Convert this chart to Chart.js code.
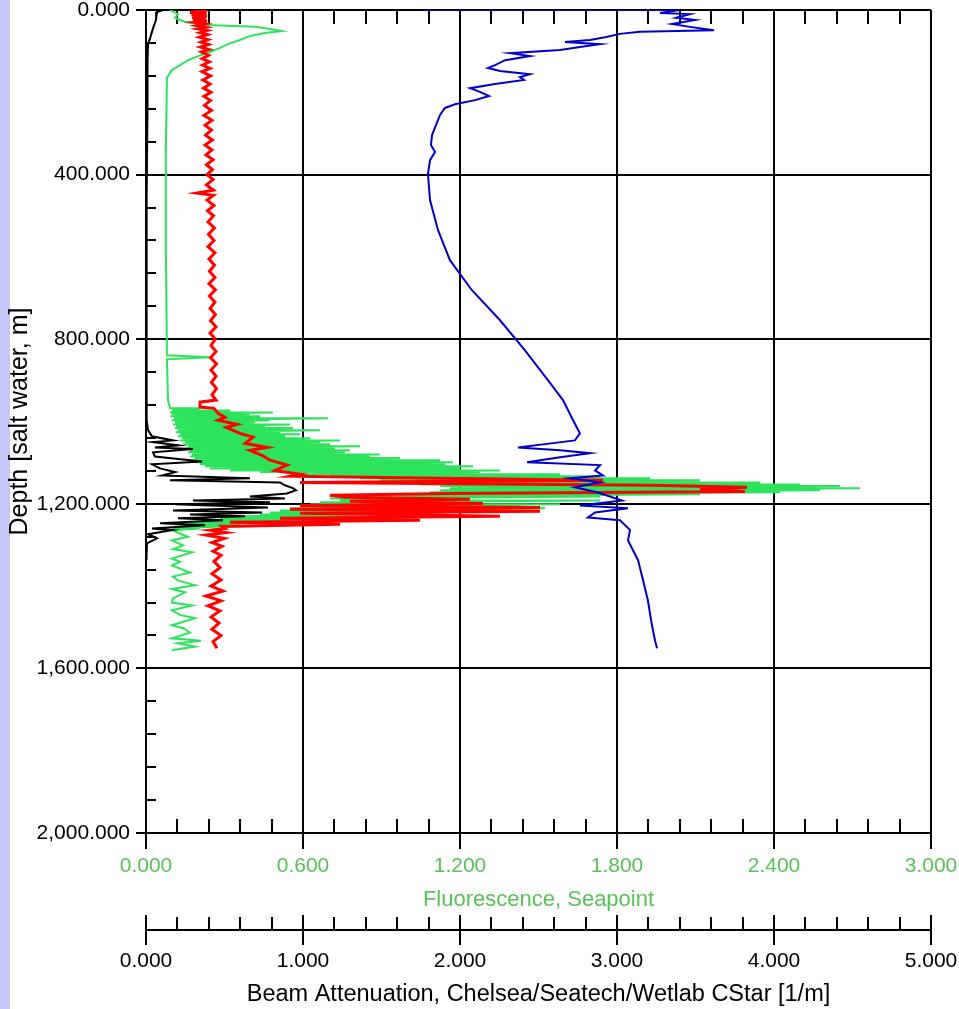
<!DOCTYPE html>
<html><head><meta charset="utf-8">
<script src="https://cdn.jsdelivr.net/npm/chart.js@4.4.0/dist/chart.umd.min.js"></script>
<style>
html,body{margin:0;padding:0;}
body{width:959px;height:1009px;overflow:hidden;background:linear-gradient(to right,#c6c6f6 0,#c6c6f6 10px,#ffffff 10px);}
canvas{display:block;}
</style></head><body>
<canvas id="c" width="959" height="1009"></canvas>
<script>
// ---- data (depth in m, values in instrument units) ----
const depthTicks = [0, 400, 800, 1200, 1600, 2000];
const fluorTicks = [0, 0.6, 1.2, 1.8, 2.4, 3.0];
const beamTicks = [0, 1, 2, 3, 4, 5];

const blueDepth = [0,0,7,10,19,24,34,41,49,53,58,66,73,78,83,90,97,105,112,122,134,141,148,156,163,170,180,190,199,209,219,229,238,255,280,304,328,345,365,399,462,535,608,681,754,827,900,948,997,1029,1046,1055,1063,1070,1077,1087,1099,1106,1119,1131,1138,1148,1160,1172,1192,1204,1211,1221,1233,1240,1264,1289,1337,1386,1435,1483,1532,1551];
const blueBeam = [1.758,3.401,3.274,3.465,3.376,3.497,3.350,3.465,3.618,3.146,3.019,2.924,2.828,2.669,2.892,2.764,2.637,2.318,2.446,2.287,2.223,2.178,2.255,2.446,2.382,2.408,2.223,2.064,2.127,2.185,2.096,1.968,1.904,1.873,1.847,1.822,1.815,1.841,1.809,1.796,1.809,1.860,1.936,2.076,2.255,2.414,2.561,2.656,2.720,2.764,2.732,2.541,2.369,2.637,2.828,2.637,2.427,2.892,2.860,2.911,2.701,2.892,2.732,2.873,3.032,2.764,3.070,2.860,2.815,3.019,3.083,3.070,3.134,3.166,3.197,3.217,3.242,3.255];

const blackDepth = [0,5,24,44,61,85,122,219,462,705,948,997,1021,1036,1046,1050,1058,1063,1067,1075,1085,1097,1104,1114,1123,1131,1138,1143,1148,1155,1162,1167,1175,1182,1187,1192,1196,1201,1209,1216,1221,1226,1230,1235,1240,1247,1252,1260,1264,1274,1284,1296,1313,1337];
const blackBeam = [0.108,0.070,0.064,0.045,0.032,0.013,0.010,0.010,0.004,0.003,0.003,0.006,0.013,0.038,0.172,0.045,0.204,0.057,0.299,0.045,0.057,0.357,0.038,0.089,0.185,0.102,0.662,0.153,0.854,0.885,0.936,0.955,0.898,0.662,0.885,0.299,0.790,0.185,0.777,0.172,0.739,0.280,0.631,0.204,0.490,0.089,0.376,0.038,0.166,0.013,0.070,0.006,0.003,0.003];

const redDepth = [0,3,6,9,12,15,18,21,24,27,30,34,38,42,46,50,55,60,66,72,78,84,90,96,102,110,118,126,134,142,150,160,170,180,190,200,210,220,232,244,256,268,280,292,304,316,328,340,352,364,376,388,400,412,425,438,445,450,462,475,488,500,515,530,545,560,575,590,605,620,635,650,665,680,695,710,725,740,755,770,785,800,815,830,845,860,875,890,905,920,935,948,
953,965,968,980,990,997,1007,1014,1029,1038,1053,1063,1070,1082,1094,1106,1119,1128,1133,1138,1143,1148,1155,1160,1165,1170,1175,1179,1184,1189,1194,1199,1204,1209,1213,1218,1223,1230,1235,1240,1245,1250,1255,1260,
1264,1270,1276,1284,1294,1303,1315,1325,1340,1355,1370,1385,1400,1412,1424,1436,1448,1460,1475,1490,1505,1520,1535,1551];
const redBeam = [0.299,0.389,0.280,0.385,0.290,0.389,0.293,0.382,0.299,0.389,0.312,0.376,0.325,0.382,0.331,0.389,0.344,0.392,0.340,0.395,0.350,0.398,0.346,0.401,0.353,0.398,0.357,0.404,0.360,0.408,0.357,0.411,0.363,0.408,0.366,0.414,0.369,0.411,0.373,0.417,0.369,0.420,0.376,0.417,0.379,0.423,0.376,0.420,0.382,0.427,0.385,0.423,0.389,0.427,0.385,0.430,0.325,0.430,0.389,0.433,0.392,0.430,0.395,0.436,0.398,0.433,0.395,0.439,0.401,0.436,0.404,0.439,0.401,0.442,0.404,0.439,0.408,0.442,0.411,0.446,0.408,0.442,0.414,0.446,0.411,0.449,0.414,0.446,0.417,0.449,0.420,0.446,
0.344,0.344,0.433,0.459,0.503,0.459,0.580,0.510,0.599,0.682,0.631,0.771,0.662,0.739,0.790,0.898,0.822,0.981,0.917,1.873,2.911,0.981,3.210,3.828,3.529,3.815,1.936,1.172,1.268,2.064,1.299,2.146,0.981,2.510,0.917,2.510,0.981,2.255,0.854,1.745,0.535,1.236,0.484,0.503,
0.408,0.510,0.382,0.497,0.420,0.484,0.427,0.478,0.433,0.471,0.420,0.478,0.414,0.490,0.382,0.478,0.395,0.471,0.414,0.465,0.420,0.478,0.427,0.452];

const greenDepth = [0,10,19,29,36,41,46,51,56,63,73,83,92,102,112,122,134,146,165,340,584,839,844,849,948,
968,968,973,973,978,978,982,982,987,987,992,992,997,997,1002,1002,1007,1007,1012,1012,1016,1016,1021,1021,1026,1026,1031,1031,1036,1036,1041,1041,1046,1046,1050,1050,1055,1055,1060,1060,1065,1065,1070,1070,1075,1075,1080,1080,1085,1085,1089,1089,1094,1094,1099,1099,1104,1104,1109,1109,1114,1114,1119,1119,1123,1123,1128,1128,1133,1133,1138,1138,1143,1143,1148,1148,1153,1153,1157,1157,1162,1162,1167,1167,1172,1172,1177,1177,1182,1182,1187,1187,1192,1192,1196,1196,1201,1201,1206,1206,1211,1211,1216,1216,1221,1221,1226,1226,1230,1230,1235,1235,1240,1240,1245,1245,1250,1250,1255,1255,1260,1260,
1264,1280,1289,1301,1310,1318,1333,1341,1350,1367,1377,1386,1398,1407,1415,1430,1440,1447,1459,1470,1478,1495,1503,1513,1527,1533,1539,1547,1556];
const greenFluor = [0.092,0.122,0.111,0.149,0.206,0.417,0.474,0.520,0.455,0.398,0.359,0.313,0.283,0.245,0.199,0.161,0.130,0.099,0.080,0.076,0.076,0.080,0.245,0.080,0.084,
0.092,0.206,0.099,0.321,0.092,0.485,0.099,0.397,0.092,0.436,0.107,0.696,0.099,0.474,0.111,0.417,0.103,0.550,0.115,0.455,0.111,0.562,0.122,0.665,0.115,0.512,0.130,0.589,0.122,0.531,0.138,0.627,0.130,0.741,0.149,0.665,0.141,0.703,0.161,0.818,0.153,0.722,0.168,0.780,0.161,0.761,0.176,0.894,0.168,0.856,0.187,0.971,0.176,1.124,0.187,1.173,0.206,1.143,0.225,1.250,0.245,1.200,0.321,1.353,0.436,1.276,0.589,1.582,0.703,1.735,0.818,1.926,0.894,2.117,0.971,2.347,1.047,2.499,1.124,2.652,1.162,2.729,1.124,2.576,1.085,2.423,0.971,2.117,0.894,1.735,0.703,1.238,0.741,1.735,0.665,1.276,0.627,1.582,0.589,1.429,0.550,1.525,0.512,1.353,0.474,1.047,0.436,0.868,0.359,0.780,0.283,0.665,0.206,0.589,0.168,0.436,0.130,0.359,0.111,0.283,0.099,0.206,
0.099,0.160,0.099,0.141,0.103,0.176,0.099,0.130,0.099,0.168,0.103,0.122,0.187,0.099,0.149,0.103,0.099,0.176,0.099,0.130,0.187,0.099,0.145,0.168,0.099,0.210,0.122,0.187,0.099];

// ---- helpers ----
const FONT = '"Liberation Sans", Arial, sans-serif';
const GREEN_TEXT = '#55c455';
const CLEAR = 'rgba(0,0,0,0)';
const fmt3 = v => Number(v).toLocaleString('en-US', {minimumFractionDigits: 3, maximumFractionDigits: 3});
const pts = (depth, vals) => depth.map((d, i) => ({x: vals[i], y: d}));
const fixedTicks = list => (scale) => { scale.ticks = list.map(v => ({value: v})); };

const axisDecor = {
  id: 'axisDecor',
  beforeDatasetsDraw(chart) {
    const ctx = chart.ctx;
    const {left, top, bottom} = chart.chartArea;
    const y = chart.scales.y, xb = chart.scales.xBeam, xf = chart.scales.xFluor;
    ctx.save();
    ctx.strokeStyle = '#000';
    ctx.lineWidth = 2;
    ctx.beginPath();
    // left axis: minor ticks inside, major ticks outside
    for (let i = 1; i < 25; i++) {
      if (i % 5 === 0) continue;
      const py = Math.round(y.getPixelForValue(i * 80));
      ctx.moveTo(left, py); ctx.lineTo(left + 10, py);
    }
    for (const v of depthTicks) {
      const py = Math.round(y.getPixelForValue(v));
      ctx.moveTo(left - 10, py); ctx.lineTo(left, py);
    }
    // top edge minor ticks
    for (let i = 1; i < 25; i++) {
      if (i % 5 === 0) continue;
      const px = Math.round(xb.getPixelForValue(i * 0.2));
      ctx.moveTo(px, top); ctx.lineTo(px, top + 14);
    }
    // fluorescence axis (chart bottom): minor ticks up, major ticks down
    for (let i = 1; i < 25; i++) {
      if (i % 5 === 0) continue;
      const px = Math.round(xf.getPixelForValue(i * 0.12));
      ctx.moveTo(px, bottom); ctx.lineTo(px, bottom - 14);
    }
    for (const v of fluorTicks) {
      const px = Math.round(xf.getPixelForValue(v));
      ctx.moveTo(px, bottom); ctx.lineTo(px, bottom + 16);
    }
    // beam attenuation axis
    const by = xb.top + 13;
    ctx.moveTo(xb.left, by); ctx.lineTo(xb.right, by);
    for (let i = 1; i < 25; i++) {
      if (i % 5 === 0) continue;
      const px = Math.round(xb.getPixelForValue(i * 0.2));
      ctx.moveTo(px, by); ctx.lineTo(px, by - 13);
    }
    for (const v of beamTicks) {
      const px = Math.round(xb.getPixelForValue(v));
      ctx.moveTo(px, by - 15); ctx.lineTo(px, by + 15);
    }
    ctx.stroke();
    ctx.restore();
  }
};

const line = (data, color, axis, width) => ({
  data, xAxisID: axis, yAxisID: 'y', showLine: true,
  borderColor: color, backgroundColor: color, borderWidth: width,
  pointRadius: 0, tension: 0, fill: false
});

new Chart(document.getElementById('c'), {
  type: 'scatter',
  data: {datasets: [
    line(pts(blueDepth, blueBeam), '#0000c8', 'xBeam', 2),
    line(pts(blackDepth, blackBeam), '#000000', 'xBeam', 2),
    line(pts(redDepth, redBeam), '#ff0000', 'xBeam', 3),
    line(pts(greenDepth, greenFluor), '#2ee35c', 'xFluor', 2)
  ]},
  options: {
    responsive: false,
    animation: false,
    devicePixelRatio: 1,
    layout: {padding: {left: 0, top: 10, right: 28, bottom: 0}},
    plugins: {legend: {display: false}, tooltip: {enabled: false}},
    scales: {
      y: {
        type: 'linear', position: 'left', reverse: true, min: 0, max: 2000,
        afterBuildTicks: fixedTicks(depthTicks),
        ticks: {callback: v => fmt3(v), color: '#000', font: {family: FONT, size: 21, lineHeight: 0.9}, padding: 0},
        grid: {color: '#000', lineWidth: 2, tickLength: 16, drawTicks: true, tickColor: CLEAR},
        border: {display: true, color: '#000', width: 2},
        title: {display: true, text: 'Depth [salt water, m]', color: '#000', font: {family: FONT, size: 25}, padding: {top: 5, bottom: 0}},
        afterFit: s => { s.width = 146; }
      },
      xFluor: {
        type: 'linear', position: 'bottom', min: 0, max: 3, weight: 0,
        afterBuildTicks: fixedTicks(fluorTicks),
        ticks: {callback: v => fmt3(v), color: GREEN_TEXT, font: {family: FONT, size: 21}, padding: 0, maxRotation: 0, autoSkip: false},
        grid: {display: false, drawTicks: true, tickLength: 21},
        border: {display: false},
        title: {display: true, text: 'Fluorescence, Seapoint', color: GREEN_TEXT, font: {family: FONT, size: 22}, padding: {top: 0, bottom: 4}},
        afterFit: s => { s.height = 84; }
      },
      xBeam: {
        type: 'linear', position: 'bottom', min: 0, max: 5, weight: 1,
        afterBuildTicks: fixedTicks(beamTicks),
        ticks: {callback: v => fmt3(v), color: '#000', font: {family: FONT, size: 21}, padding: 0, maxRotation: 0, autoSkip: false},
        grid: {display: true, color: '#000', lineWidth: 2, drawTicks: true, tickLength: 32, tickColor: CLEAR, drawOnChartArea: true},
        border: {display: false},
        title: {display: true, text: 'Beam Attenuation, Chelsea/Seatech/Wetlab CStar [1/m]', color: '#000', font: {family: FONT, size: 23.5}, padding: {top: 0, bottom: 0}},
        afterFit: s => { s.height = 92; }
      }
    }
  },
  plugins: [axisDecor]
});
</script>
</body></html>
